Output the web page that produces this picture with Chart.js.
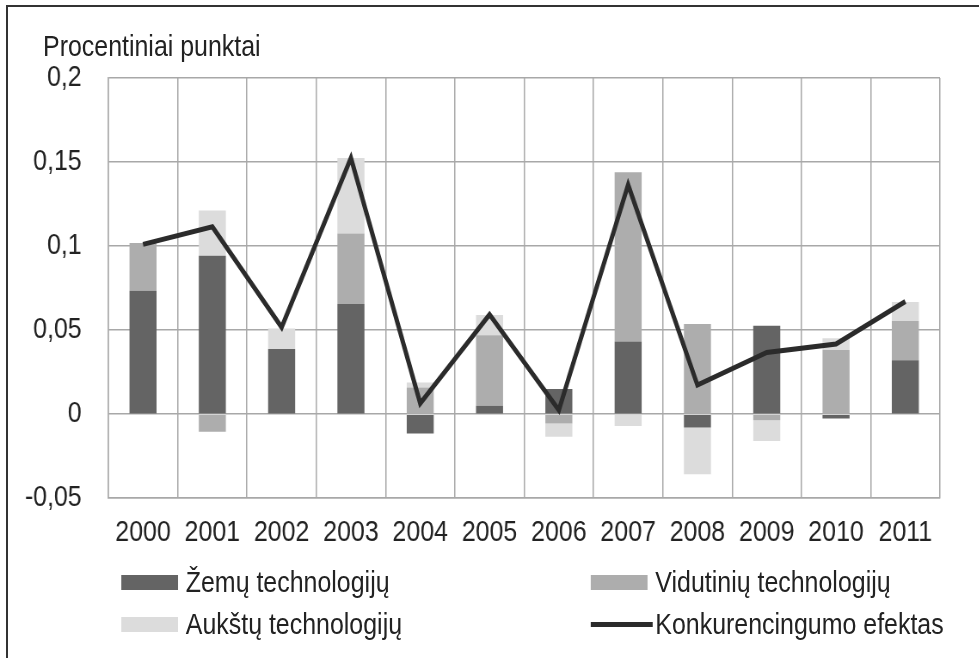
<!DOCTYPE html>
<html>
<head>
<meta charset="utf-8">
<script src="https://cdn.jsdelivr.net/npm/chart.js@4"></script>
<style>
  body { margin: 0; background: #fff; }
  #page { position: relative; width: 979px; height: 658px; overflow: hidden; }
  #page:before { content: ""; position: absolute; left: 6px; top: 5px; right: 0; height: 2px; background: #333; z-index: 2; }
  #page:after { content: ""; position: absolute; left: 6px; top: 5px; bottom: 0; width: 2px; background: #333; z-index: 2; }
  /* the original is squeezed horizontally, so the whole drawing is too */
  #wrap { position: absolute; left: 0; top: 0; width: 1138px; height: 658px; transform: scaleX(0.86); transform-origin: 0 0; }
  canvas { position: absolute; left: 0; top: 0; }
  #title, .lg { position: absolute; font-family: "Liberation Sans", Arial, sans-serif; font-size: 29px; color: #222; white-space: nowrap; }
  #title { left: 50px; top: 29px; line-height: 35px; }
  .lg { height: 30px; line-height: 30px; }
  .lg i { position: absolute; left: 0; top: 8px; width: 66px; height: 15px; }
  .lg i.line { top: 13px; height: 5px; width: 72px; }
  .lg span { position: absolute; left: 75px; top: 0; }
</style>
</head>
<body>
<div id="page">
  <div id="wrap">
    <canvas id="chart" width="1138" height="577"></canvas>
    <div id="title">Procentiniai punktai</div>
    <div id="legend"></div>
  </div>
</div>
<script>
const years = ["2000", "2001", "2002", "2003", "2004", "2005", "2006", "2007", "2008", "2009", "2010", "2011"];
const zemu = [0.0734, 0.0942, 0.0387, 0.0655, -0.0115, 0.005, 0.0149, 0.0433, -0.008, 0.0526, -0.0026, 0.0321];
const vidutiniu = [0.0284, -0.0105, 0, 0.042, 0.0159, 0.042, -0.0055, 0.1006, 0.0536, -0.0036, 0.0381, 0.0234];
const aukstu = [0, 0.027, 0.0123, 0.0449, 0.003, 0.012, -0.008, -0.007, -0.0277, -0.0123, 0.007, 0.0113];
const efektas = [0.101, 0.1115, 0.0516, 0.1524, 0.0064, 0.0593, 0.0024, 0.1365, 0.0173, 0.0367, 0.0417, 0.067];

const FONT = "'Liberation Sans', Arial, sans-serif";
const gridColor = "#a8a8a8";

const ctx = document.getElementById("chart").getContext("2d");

const chart = new Chart(ctx, {
  type: "bar",
  data: {
    labels: years,
    datasets: [
      { label: "Žemų technologijų", data: zemu, backgroundColor: "#646464", order: 1 },
      { label: "Vidutinių technologijų", data: vidutiniu, backgroundColor: "#adadad", order: 1 },
      { label: "Aukštų technologijų", data: aukstu, backgroundColor: "#dcdcdc", order: 1 },
      {
        type: "line",
        label: "Konkurencingumo efektas",
        data: efektas,
        borderColor: "#2b2b2b",
        backgroundColor: "#2b2b2b",
        borderWidth: 5,
        pointRadius: 0,
        tension: 0,
        order: 0,
      },
    ],
  },
  options: {
    responsive: false,
    animation: false,
    layout: { padding: { left: 20, right: 45, top: 78, bottom: 10 } },
    datasets: {
      bar: { categoryPercentage: 1, barPercentage: 0.39 },
    },
    plugins: {
      legend: { display: false },
      tooltip: { enabled: false },
    },
    scales: {
      x: {
        stacked: true,
        grid: { offset: true, color: gridColor, lineWidth: 1.5, drawTicks: false },
        border: { color: gridColor, width: 1.5 },
        ticks: { color: "#222", padding: 17, maxRotation: 0, autoSkip: false, font: { family: FONT, size: 29 } },
      },
      y: {
        stacked: true,
        min: -0.05,
        max: 0.2,
        afterFit: (s) => { s.width = 106; },
        grid: { color: gridColor, lineWidth: 1.5, drawTicks: false },
        border: { color: gridColor, width: 1.5 },
        ticks: {
          stepSize: 0.05,
          color: "#222",
          padding: 31,
          font: { family: FONT, size: 29 },
          callback: (v) => String(parseFloat(v.toFixed(2))).replace(".", ","),
        },
      },
    },
  },
});

// legenda: du stulpeliai po grafiku
const spots = [[141, 567], [687, 567], [141, 609], [687, 609]];
const legend = document.getElementById("legend");
chart.data.datasets.forEach((ds, i) => {
  const item = document.createElement("div");
  item.className = "lg";
  item.style.left = spots[i][0] + "px";
  item.style.top = spots[i][1] + "px";
  const mark = document.createElement("i");
  if (ds.type === "line") {
    mark.className = "line";
    mark.style.background = ds.borderColor;
  } else {
    mark.style.background = ds.backgroundColor;
  }
  const txt = document.createElement("span");
  txt.textContent = ds.label;
  item.appendChild(mark);
  item.appendChild(txt);
  legend.appendChild(item);
});
</script>
</body>
</html>
